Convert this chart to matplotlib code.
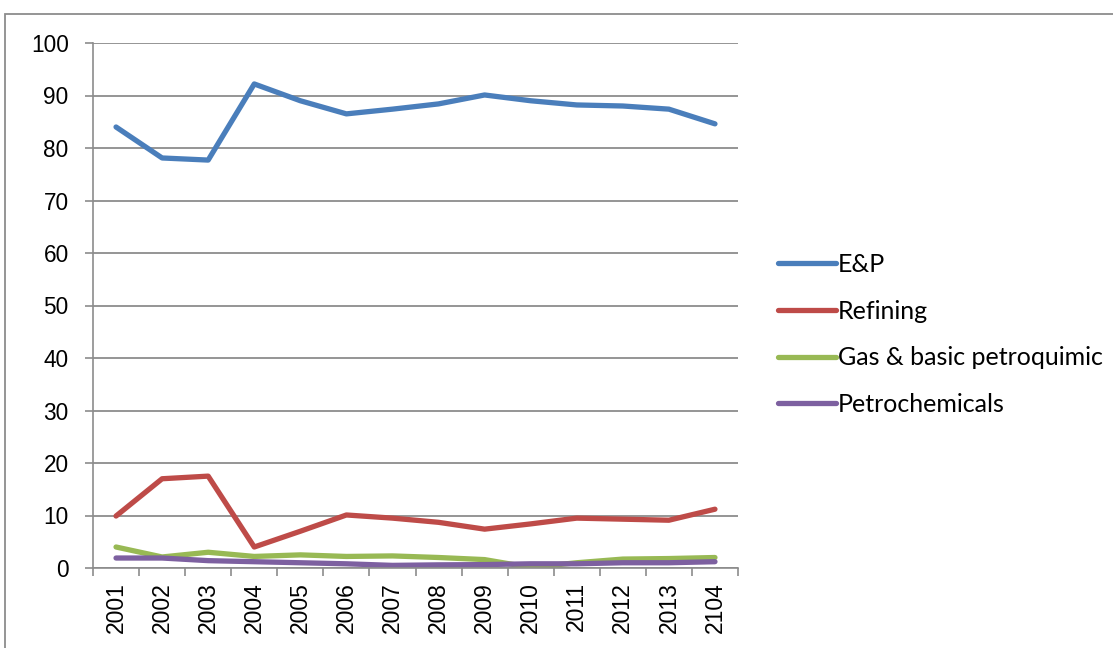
import numpy as np
import matplotlib
matplotlib.use('Agg')
import matplotlib.pyplot as plt
from matplotlib.patches import Rectangle

years = ['2001', '2002', '2003', '2004', '2005', '2006', '2007',
         '2008', '2009', '2010', '2011', '2012', '2013', '2104']
ep = [84.0, 78.1, 77.7, 92.2, 89.0, 86.5, 87.4, 88.4, 90.1, 89.0, 88.2, 88.0, 87.4, 84.6]
refining = [9.9, 17.0, 17.5, 4.0, 7.0, 10.1, 9.5, 8.7, 7.4, 8.4, 9.5, 9.3, 9.1, 11.2]
gas = [4.0, 2.1, 3.0, 2.2, 2.5, 2.2, 2.3, 2.0, 1.6, 0.1, 1.0, 1.7, 1.8, 2.0]
petrochem = [1.9, 1.9, 1.4, 1.2, 1.0, 0.8, 0.5, 0.6, 0.65, 0.8, 0.8, 1.0, 1.0, 1.2]

plt.rcParams['font.family'] = ['Liberation Sans', 'DejaVu Sans']

W, H = 1113, 648
fig = plt.figure(figsize=(W / 100, H / 100), dpi=100)
ax = fig.add_axes([93 / W, 1 - 568 / H, (738 - 93) / W, (568 - 43) / H])

# outer chart border
fig.patches.append(Rectangle((5 / W, -0.1), 1.2, 1 - 14 / H + 0.1, transform=fig.transFigure,
                             fill=False, edgecolor='#8c8c8c', linewidth=1.3))

x = np.arange(len(years))
lw = 3.8
ax.plot(x, ep, color='#4A7EBB', lw=lw, label='E&P', solid_capstyle='round')
ax.plot(x, refining, color='#BE4B48', lw=lw, label='Refining', solid_capstyle='round')
ax.plot(x, gas, color='#98B954', lw=lw, label='Gas & basic petroquimic', solid_capstyle='round')
ax.plot(x, petrochem, color='#7D60A0', lw=lw, label='Petrochemicals', solid_capstyle='round')

grey = '#8c8c8c'
ax.set_xlim(-0.5, len(years) - 0.5)
ax.set_ylim(0, 100)
ax.set_yticks(np.arange(0, 101, 10))
ax.set_xticks(x)
ax.set_xticklabels(years, rotation=90)
ax.set_xticks(np.arange(-0.5, len(years), 1), minor=True)
ax.tick_params(axis='x', which='major', length=0, pad=10, labelsize=16.5)
ax.tick_params(axis='x', which='minor', length=6, color=grey, width=1.2)
ax.tick_params(axis='y', length=6, color=grey, width=1.2, labelsize=16.3, pad=11.5)
ax.yaxis.grid(True, color=grey, lw=1.3)
ax.set_axisbelow(True)
for s in ['top', 'right']:
    ax.spines[s].set_visible(False)
for s in ['left', 'bottom']:
    ax.spines[s].set_color(grey)
    ax.spines[s].set_linewidth(1.2)

leg = fig.legend(loc='center left', bbox_to_anchor=(778 / W, 1 - 334.5 / H), frameon=False,
                 borderpad=0, borderaxespad=0, handlelength=2.3, handletextpad=0.08,
                 labelspacing=0.95, prop={'family': 'Lato', 'size': 18})

fig.savefig('out.png', dpi=100)
